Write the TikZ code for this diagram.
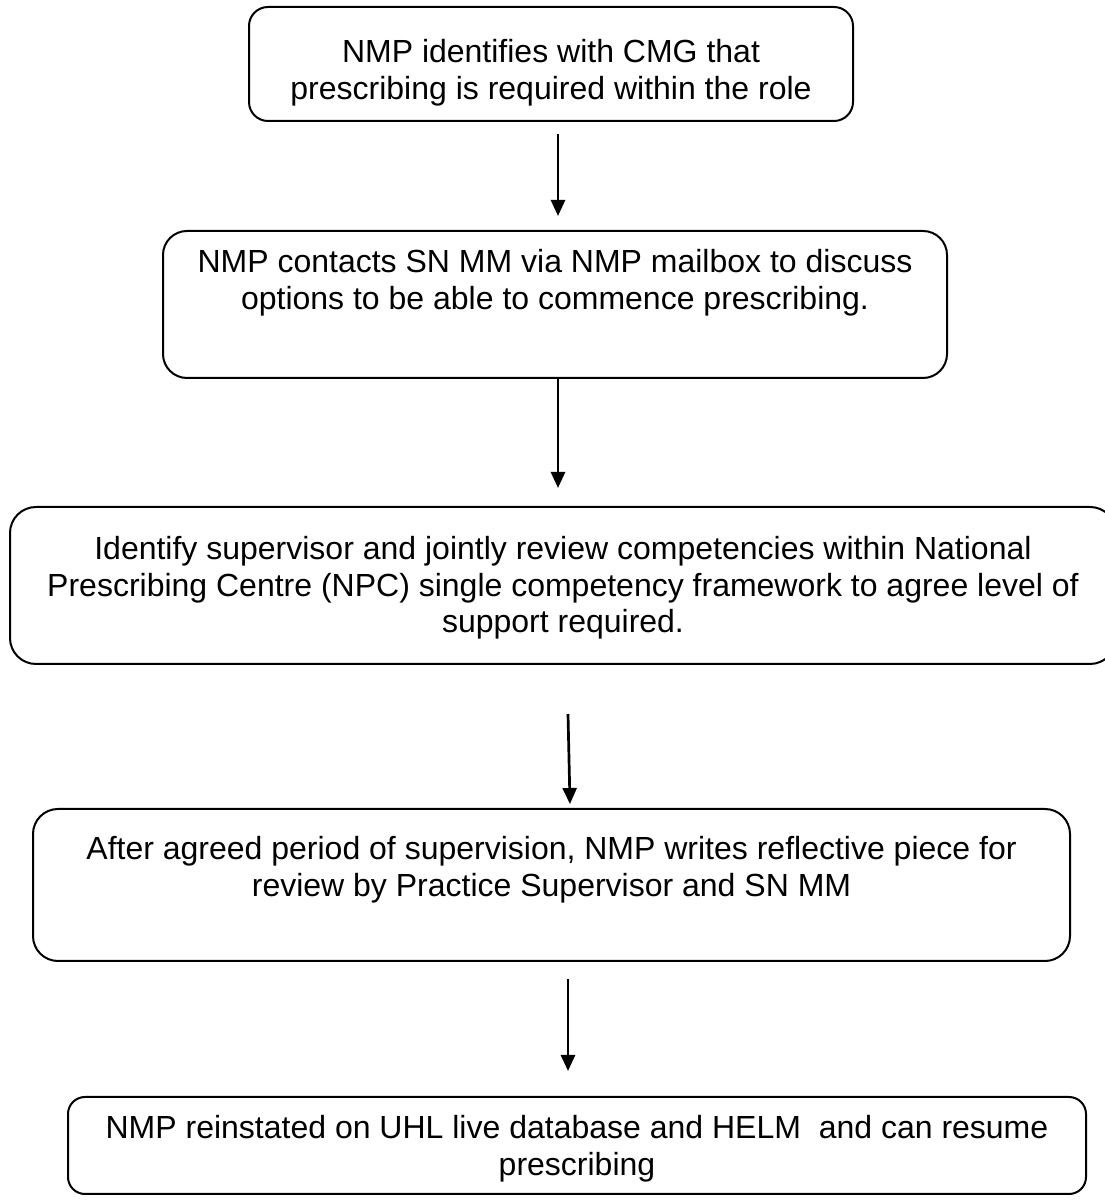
\documentclass[tikz,border=0pt]{standalone}
\usepackage{fontspec}
\setmainfont{Liberation Sans}
\usetikzlibrary{positioning,arrows.meta}

\begin{document}
\begin{tikzpicture}[x=1pt,y=1pt,
        stepbox/.style={draw,line width=2pt,inner sep=0pt},
        steptext/.style={inner sep=0pt,align=center,font=\fontsize{32}{36.8}\selectfont},
        flowarrow/.style={line width=2.7pt,-{Triangle[length=16pt,width=14pt]}}]
    \clip (0,0) rectangle (1105,1200);
    % boxes
    \node[stepbox,rounded corners=19pt,minimum width=604pt,minimum height=114pt] (identify) at (551,1136) {};
    \node[stepbox,rounded corners=24pt,minimum width=784pt,minimum height=147pt] (contact) at (555,895.5) {};
    \node[stepbox,rounded corners=26pt,minimum width=1106pt,minimum height=157pt] (review) at (563,614.5) {};
    \node[stepbox,rounded corners=25pt,minimum width=1037pt,minimum height=152pt] (reflect) at (551.5,315) {};
    \node[stepbox,rounded corners=17pt,minimum width=1018pt,minimum height=97pt] (reinstate) at (577,54.5) {};
    % texts
    \node[steptext,below=33pt of identify.north] (identifytxt) {NMP identifies with CMG that\\prescribing is required within the role};
    \node[steptext,below=19pt of contact.north] (contacttxt) {NMP contacts SN MM via NMP mailbox to discuss\\options to be able to commence prescribing.};
    \node[steptext,below=30pt of review.north] (reviewtxt) {Identify supervisor and jointly review competencies within National\\Prescribing Centre (NPC) single competency framework to agree level of\\support required.};
    \node[steptext,below=28pt of reflect.north] (reflecttxt) {After agreed period of supervision, NMP writes reflective piece for\\review by Practice Supervisor and SN MM};
    \node[steptext,below=19pt of reinstate.north] (reinstatetxt) {NMP reinstated on UHL live database and HELM\ \ and can resume\\prescribing};
    % arrows
    \draw[flowarrow] ([xshift=7pt,yshift=-12pt]identify.south) -- ([xshift=3pt,yshift=14pt]contact.north);
    \draw[flowarrow] ([xshift=3pt]contact.south) -- ([xshift=-5pt,yshift=18pt]review.north);
    \draw[flowarrow] ([xshift=5pt,yshift=-49pt]review.south) -- ([xshift=18.5pt,yshift=4pt]reflect.north);
    \draw[flowarrow] ([xshift=16.5pt,yshift=-17pt]reflect.south) -- ([xshift=-9pt,yshift=25pt]reinstate.north);
\end{tikzpicture}
\end{document}
